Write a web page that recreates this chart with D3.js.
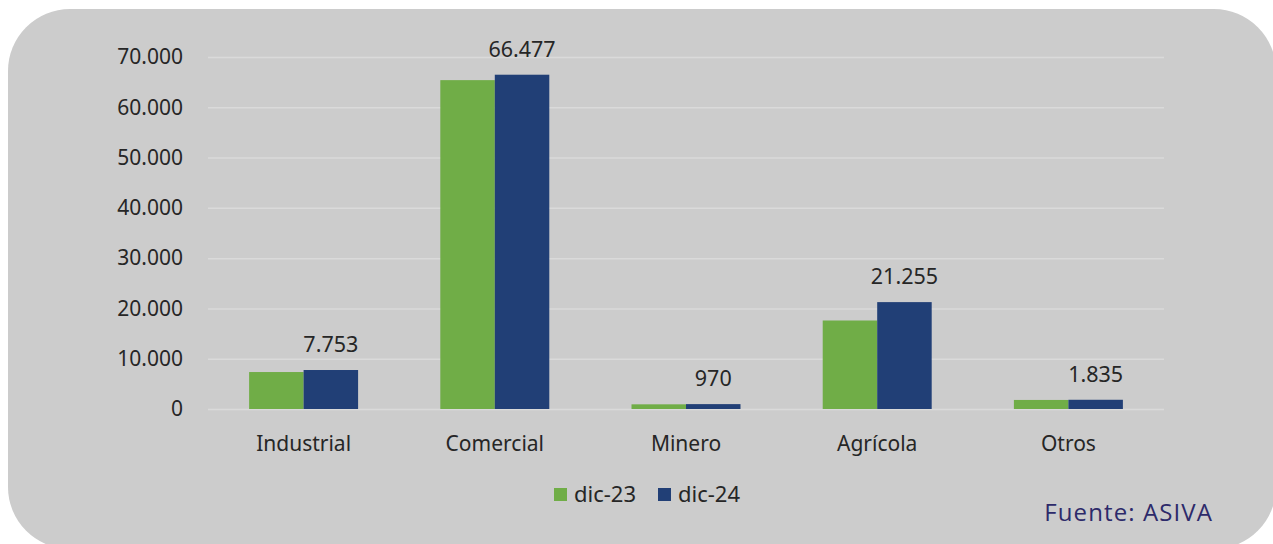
<!DOCTYPE html>
<html>
<head>
<meta charset="utf-8">
<script src="https://cdn.jsdelivr.net/npm/d3@7"></script>
<style>
    body { margin: 0; background: #ffffff; }
    svg { display: block; }
</style>
</head>
<body>
<div id="wrapper"></div>
<script>
const categories = ['Industrial', 'Comercial', 'Minero', 'Agrícola', 'Otros']
const seriesNames = ['dic-23', 'dic-24']
const dic23 = [7350, 65400, 930, 17600, 1800]
const dic24 = [7753, 66477, 970, 21255, 1835]
const yTicks = [0, 10000, 20000, 30000, 40000, 50000, 60000, 70000]
const source = 'Fuente: ASIVA'

function renderChart() {
    const dimensions = {
        width: 1273,
        height: 544,
        margins: {
            top: 57,
            right: 109,
            bottom: 135,
            left: 208
        }
    }
    dimensions.boundedWidth = dimensions.width - dimensions.margins.left - dimensions.margins.right
    dimensions.boundedHeight = dimensions.height - dimensions.margins.top - dimensions.margins.bottom

    const colors = { 'dic-23': '#70ad47', 'dic-24': '#213f76' }
    const font = '"Noto Sans", sans-serif'
    const textColor = '#262626'

    const data = categories.map((c, i) => ({
        category: c,
        values: [
            { series: 'dic-23', value: dic23[i] },
            { series: 'dic-24', value: dic24[i] }
        ]
    }))

    const format = d3.formatLocale({
        decimal: ',',
        thousands: '.',
        grouping: [3],
        currency: ['$', '']
    }).format(',.0f')

    const wrapper = d3.select('#wrapper')
        .append('svg')
        .attr('width', dimensions.width)
        .attr('height', dimensions.height)

    // rounded grey panel
    wrapper.append('rect')
        .attr('x', 8)
        .attr('y', 9)
        .attr('width', 1268)
        .attr('height', 540)
        .attr('rx', 62)
        .attr('fill', '#cccccc')

    const bounds = wrapper.append('g')
        .attr('transform', `translate(${dimensions.margins.left}, ${dimensions.margins.top})`)

    const yScale = d3.scaleLinear()
        .domain([0, 70000])
        .range([dimensions.boundedHeight, 0])

    const xScale = d3.scaleBand()
        .domain(categories)
        .range([0, dimensions.boundedWidth])
        .paddingInner(0.43)
        .paddingOuter(0.215)

    const xSub = d3.scaleBand()
        .domain(seriesNames)
        .range([0, xScale.bandwidth()])

    // gridlines
    const grid = bounds.append('g')
        .call(d3.axisLeft(yScale).tickValues(yTicks).tickSize(-dimensions.boundedWidth).tickFormat(''))
    grid.select('.domain').remove()
    grid.selectAll('line').attr('stroke', '#dadada').attr('stroke-width', 1.5)

    // y axis labels
    const yAxis = bounds.append('g')
        .call(d3.axisLeft(yScale).tickValues(yTicks).tickSize(0).tickPadding(25).tickFormat(format))
    yAxis.select('.domain').remove()
    yAxis.selectAll('text')
        .attr('fill', textColor)
        .style('font-family', font)
        .style('font-size', '21px')

    const groups = bounds.append('g')
        .selectAll('g')
        .data(data)
        .join('g')
        .attr('transform', d => `translate(${xScale(d.category)}, 0)`)

    groups.selectAll('rect')
        .data(d => d.values)
        .join('rect')
        .attr('x', d => xSub(d.series))
        .attr('y', d => yScale(d.value))
        .attr('width', xSub.bandwidth())
        .attr('height', d => dimensions.boundedHeight - yScale(d.value))
        .attr('fill', d => colors[d.series])

    // labels only for dic-24
    groups.selectAll('text')
        .data(d => d.values.filter(v => v.series === 'dic-24'))
        .join('text')
        .attr('x', d => xSub(d.series) + xSub.bandwidth() / 2)
        .attr('y', d => yScale(d.value) - 18)
        .attr('text-anchor', 'middle')
        .attr('fill', textColor)
        .style('font-family', font)
        .style('font-size', '21.5px')
        .text(d => format(d.value))

    // x axis labels
    const xAxis = bounds.append('g')
        .attr('transform', `translate(0, ${dimensions.boundedHeight})`)
        .call(d3.axisBottom(xScale).tickSize(0))
    xAxis.select('.domain').remove()
    xAxis.selectAll('text')
        .attr('y', 42)
        .attr('dy', 0)
        .attr('fill', textColor)
        .style('font-family', font)
        .style('font-size', '21px')

    // legend
    const legendX = d3.scaleOrdinal().domain(seriesNames).range([554, 658])
    const legend = wrapper.append('g')
        .selectAll('g')
        .data(seriesNames)
        .join('g')
        .attr('transform', d => `translate(${legendX(d)}, 488)`)
    legend.append('rect')
        .attr('width', 13)
        .attr('height', 13)
        .attr('fill', d => colors[d])
    legend.append('text')
        .attr('x', 20)
        .attr('y', 14)
        .attr('fill', textColor)
        .style('font-family', font)
        .style('font-size', '22px')
        .text(d => d)

    wrapper.append('text')
        .attr('x', 1213)
        .attr('y', 521)
        .attr('text-anchor', 'end')
        .attr('fill', '#2d2a6a')
        .style('font-family', '"Open Sans", sans-serif')
        .style('font-size', '24px')
        .style('letter-spacing', '1.1px')
        .text(source)
}

renderChart()
</script>
</body>
</html>
